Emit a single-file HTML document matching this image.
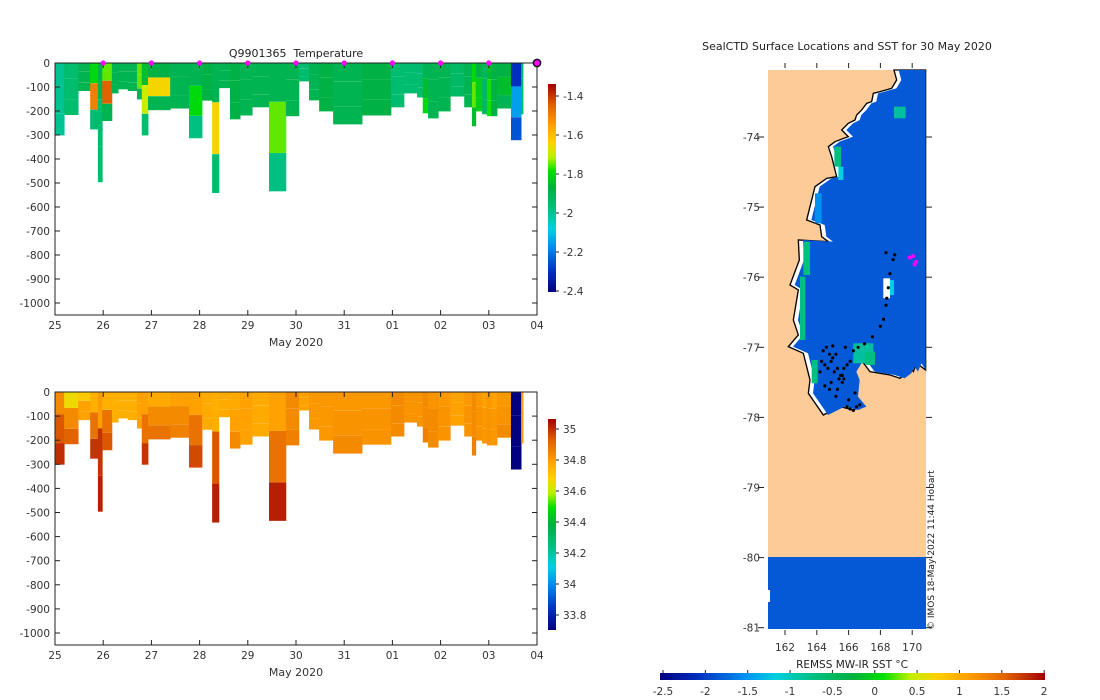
<!DOCTYPE html>
<html><head><meta charset="utf-8">
<style>
html,body{margin:0;padding:0;background:#fff;}
svg{display:block;font-family:"DejaVu Sans","Liberation Sans",sans-serif;}
</style></head>
<body>
<svg id="fig" width="1100" height="700" viewBox="0 0 1100 700" xmlns="http://www.w3.org/2000/svg">
<defs>
<linearGradient id="cbv" x1="0" y1="1" x2="0" y2="0">
<stop offset="0" stop-color="#000080"/><stop offset="0.1" stop-color="#0030c0"/><stop offset="0.22" stop-color="#0090f0"/><stop offset="0.3" stop-color="#00d0e0"/><stop offset="0.4" stop-color="#00c080"/><stop offset="0.5" stop-color="#00b040"/><stop offset="0.58" stop-color="#00e000"/><stop offset="0.65" stop-color="#c0f000"/><stop offset="0.72" stop-color="#ffd000"/><stop offset="0.8" stop-color="#ffa000"/><stop offset="0.9" stop-color="#e06000"/><stop offset="1" stop-color="#a00000"/>
</linearGradient>
<linearGradient id="cbh" x1="0" y1="0" x2="1" y2="0">
<stop offset="0" stop-color="#000080"/><stop offset="0.1" stop-color="#0030c0"/><stop offset="0.22" stop-color="#0090f0"/><stop offset="0.3" stop-color="#00d0e0"/><stop offset="0.4" stop-color="#00c080"/><stop offset="0.5" stop-color="#00b040"/><stop offset="0.58" stop-color="#00e000"/><stop offset="0.65" stop-color="#c0f000"/><stop offset="0.72" stop-color="#ffd000"/><stop offset="0.8" stop-color="#ffa000"/><stop offset="0.9" stop-color="#e06000"/><stop offset="1" stop-color="#a00000"/>
</linearGradient>
</defs>
<g id="top"></g>
<g id="bot"></g>
<g id="map"></g>
</svg>
<script>
// ---- section data ----
const castStart = [0,0.19,0.48,0.73,0.89,0.98,1.18,1.31,1.51,1.70,1.80,1.93,2.39,2.78,3.05,3.26,3.40,3.63,3.84,4.09,4.44,4.79,5.06,5.27,5.48,5.77,6.37,6.97,7.24,7.51,7.63,7.74,7.95,8.20,8.49,8.65,8.73,8.86,8.96,9.05,9.17,9.46,9.67];
const castEndLast = 9.71;
const castDepth = [300,215,115,275,495,240,125,108,115,150,300,195,188,312,155,540,103,233,217,183,533,220,75,154,200,254,217,183,125,142,208,229,200,138,183,262,200,212,220,220,188,320,212];
const tempTop = [-2.0,-1.95,-1.9,-1.8,-1.9,-1.75,-1.9,-1.9,-1.9,-1.75,-1.85,-1.88,-1.9,-1.9,-1.88,-1.9,-1.9,-1.88,-1.9,-1.9,-1.9,-1.9,-1.95,-1.9,-1.88,-1.9,-1.88,-1.95,-1.95,-1.95,-1.9,-1.9,-1.9,-1.93,-1.9,-1.8,-1.88,-1.92,-1.85,-1.88,-1.88,-2.3,-1.95];
const tempMid = [-2.0,-1.95,-1.9,-1.5,-1.95,-1.45,-1.9,-1.9,-1.9,-1.75,-1.7,-1.65,-1.9,-1.8,-1.88,-1.65,-1.9,-1.88,-1.9,-1.9,-1.75,-1.9,-1.95,-1.9,-1.88,-1.9,-1.88,-1.95,-1.95,-1.95,-1.85,-1.9,-1.9,-1.93,-1.9,-1.75,-1.82,-1.92,-1.78,-1.88,-1.85,-2.15,-1.95];
const tempDeep = [-2.0,-1.95,-1.9,-1.95,-1.95,-1.9,-1.9,-1.9,-1.9,-1.9,-1.95,-1.9,-1.9,-1.98,-1.88,-1.95,-1.9,-1.88,-1.9,-1.9,-1.98,-1.9,-1.95,-1.9,-1.88,-1.9,-1.88,-1.95,-1.95,-1.95,-1.8,-1.9,-1.9,-1.93,-1.9,-1.85,-1.82,-1.92,-1.78,-1.88,-1.9,-2.25,-1.95];
const salTop = [34.84,34.66,34.7,34.76,34.8,34.76,34.76,34.76,34.76,34.79,34.79,34.77,34.79,34.79,34.77,34.76,34.77,34.77,34.79,34.77,34.79,34.84,34.79,34.81,34.81,34.81,34.81,34.84,34.82,34.82,34.84,34.82,34.81,34.79,34.81,34.84,34.81,34.79,34.81,34.79,34.81,33.7,34.79];
const salMid = [34.94,34.84,34.79,34.89,34.99,34.89,34.76,34.76,34.76,34.79,34.89,34.84,34.84,34.89,34.77,34.94,34.77,34.79,34.79,34.77,34.89,34.84,34.79,34.81,34.81,34.82,34.82,34.84,34.82,34.82,34.84,34.84,34.82,34.79,34.82,34.84,34.82,34.81,34.82,34.81,34.82,33.7,34.79];
const salDeep = [35.0,34.92,34.79,34.99,35.02,34.94,34.76,34.76,34.76,34.79,34.99,34.89,34.86,34.96,34.77,35.02,34.77,34.84,34.79,34.77,35.02,34.86,34.79,34.81,34.81,34.84,34.82,34.84,34.82,34.82,34.86,34.84,34.82,34.79,34.82,34.86,34.82,34.81,34.82,34.81,34.84,33.7,34.79];
const xTickLabels = ["25","26","27","28","29","30","31","01","02","03","04"];
const depthTicks = [0,-100,-200,-300,-400,-500,-600,-700,-800,-900,-1000];
const surfMarkDays = [1,2,3,4,5,6,7,8,9];
const tempCbTicks = [-1.4,-1.6,-1.8,-2,-2.2,-2.4];
const salCbTicks = [35,34.8,34.6,34.4,34.2,34,33.8];
// ---- map data ----
const lonTicks = [162,164,166,168,170];
const latTicks = [-74,-75,-76,-77,-78,-79,-80,-81];
const sstTicks = [-2.5,-2,-1.5,-1,-0.5,0,0.5,1,1.5,2];
const dotLon = [164.3,164.5,164.7,164.9,165.1,165.3,165.5,165.7,165.9,164.4,164.6,164.8,165.0,165.2,165.4,165.6,164.5,164.9,165.3,165.7,166.1,164.2,165.0,165.8,166.3,166.6,165.9,166.1,166.3,166.5,166.7,166.0,166.4,167.0,167.5,168.0,168.2,168.35,168.4,168.5,168.6,168.8,168.35,168.9,164.8,165.2,165.6];
const dotLat = [-77.2,-77.25,-77.3,-77.2,-77.35,-77.3,-77.4,-77.3,-77.25,-77.05,-77.0,-77.1,-77.15,-77.1,-77.45,-77.5,-77.55,-77.5,-77.6,-77.45,-77.2,-77.35,-76.98,-77.0,-77.05,-77.0,-77.85,-77.88,-77.9,-77.85,-77.82,-77.75,-77.65,-76.95,-76.85,-76.7,-76.6,-76.4,-76.3,-76.15,-75.95,-75.75,-75.65,-75.68,-77.6,-77.7,-77.4];
const magLon = [169.85,170.05,170.25,170.15];
const magLat = [-75.72,-75.7,-75.78,-75.82];
const coastZoom = [[462,30],[470,60],[455,85],[420,95],[400,100],[395,125],[380,130],[365,150],[350,165],[345,180],[325,190],[305,210],[325,230],[285,245],[265,260],[275,290],[290,350],[260,355],[225,380],[210,440],[200,480],[240,495],[245,530],[265,545],[175,540],[178,600],[150,675],[175,690],[160,780],[175,825],[145,860],[190,880],[210,960],[205,1000],[250,1065],[300,1040],[340,1050],[365,1040],[340,1010],[345,960],[335,935],[360,895],[390,935],[450,945],[480,955],[500,940],[510,920],[520,935],[530,910],[557,930],[557,30]];

const NS="http://www.w3.org/2000/svg";
function mk(parent,tag,attrs,text){const e=document.createElementNS(NS,tag);for(const k in attrs)e.setAttribute(k,attrs[k]);if(text!==undefined)e.textContent=text;parent.appendChild(e);return e;}
const stops=[[0,[0,0,128]],[0.1,[0,48,192]],[0.22,[0,144,240]],[0.3,[0,208,224]],[0.4,[0,192,128]],[0.5,[0,176,64]],[0.58,[0,224,0]],[0.65,[192,240,0]],[0.72,[255,208,0]],[0.8,[255,160,0]],[0.9,[224,96,0]],[1,[160,0,0]]];
function cmap(t){t=Math.max(0,Math.min(1,t));for(let i=1;i<stops.length;i++){if(t<=stops[i][0]){const a=stops[i-1],b=stops[i];const f=(t-a[0])/(b[0]-a[0]);const c=a[1].map((v,j)=>Math.round(v+(b[1][j]-v)*f));return `rgb(${c[0]},${c[1]},${c[2]})`;}}return "rgb(160,0,0)";}

function panel(g,y0,pxPer100,vals,vmin,vmax,cbTop,cbBot,cbTicks,cbTickY,title,marks){
  const xL=55,xR=537,yb=y0+10*pxPer100+12;
  const xs=d=>xL+d*48.2, ys=dep=>y0+dep/100*pxPer100;
  if(title){const t=mk(g,'text',{x:296,y:57,'text-anchor':'middle','font-size':11,fill:'#222'},title);t.setAttribute('xml:space','preserve');t.style.whiteSpace='pre';}
  const casts=mk(g,'g',{});
  
  for(let i=0;i<castStart.length;i++){
    const x0=xs(castStart[i]),x1=xs(i+1<castStart.length?castStart[i+1]:castEndLast);
    const D=castDepth[i];
    const layers=[[0,0.3,vals[0][i]],[0.3,0.7,vals[1][i]],[0.7,1,vals[2][i]]];
    for(const L of layers){
      const r=mk(casts,'rect',{x:x0,y:ys(D*L[0]+2),width:x1-x0+0.4,height:ys(D*L[1])-ys(D*L[0]+2)+0.4,fill:cmap((L[2]-vmin)/(vmax-vmin))});
      
    }
  }
  mk(g,'rect',{x:xL,y:y0,width:xR-xL,height:yb-y0,fill:'none',stroke:'#222','stroke-width':1});
  depthTicks.forEach(v=>{const y=ys(-v);
    mk(g,'line',{x1:xL,x2:xL+5,y1:y,y2:y,stroke:'#222'});mk(g,'line',{x1:xR-5,x2:xR,y1:y,y2:y,stroke:'#222'});
    const t=mk(g,'text',{x:xL-5,y:y+4,'text-anchor':'end','font-size':10.5,fill:'#333'},String(v));});
  xTickLabels.forEach((s,i)=>{const x=xs(i);
    mk(g,'line',{x1:x,x2:x,y1:yb,y2:yb-5,stroke:'#222'});mk(g,'line',{x1:x,x2:x,y1:y0,y2:y0+5,stroke:'#222'});
    const t=mk(g,'text',{x:x,y:yb+14,'text-anchor':'middle','font-size':10.5,fill:'#333'},s);});
  const xl=mk(g,'text',{x:296,y:yb+31,'text-anchor':'middle','font-size':11,fill:'#333'},'May 2020');
  if(marks){surfMarkDays.forEach(d=>{const c=mk(g,'circle',{cx:xs(d),cy:y0,r:2.6,fill:'#ff00ff'});});
    const c=mk(g,'circle',{cx:xR,cy:y0,r:3.6,fill:'#ff00ff',stroke:'#111','stroke-width':1.5});}
  const cb=mk(g,'rect',{x:548,y:cbTop,width:8,height:cbBot-cbTop,fill:'url(#cbv)'});
  
  cbTicks.forEach(v=>{const y=cbTickY(v);mk(g,'line',{x1:556,x2:559,y1:y,y2:y,stroke:'#222'});
    const t=mk(g,'text',{x:563,y:y+4,'font-size':10.5,fill:'#333'},String(v));});
}
panel(document.getElementById('top'),63,24,[tempTop,tempMid,tempDeep],-2.405,-1.34,84,292,tempCbTicks,v=>96+(-1.4-v)*195,'Q9901365  Temperature',true);
panel(document.getElementById('bot'),392,24.1,[salTop,salMid,salDeep],33.705,35.065,419,630,salCbTicks,v=>429+(35-v)*155,null,false);

// ---- map ----
const M=document.getElementById('map');
const lx=lon=>785+(lon-162)*15.9, ly=lat=>137+(-lat-74)*70.1;
const tt=mk(M,'text',{x:847,y:50,'text-anchor':'middle','font-size':11,fill:'#222'},'SealCTD Surface Locations and SST for 30 May 2020');

const land=mk(M,'rect',{x:768,y:70,width:158,height:559,fill:'#fdcb98'});
const sea=mk(M,'rect',{x:768,y:557,width:158,height:72,fill:'#0559d6'});
mk(M,'rect',{x:768,y:590,width:2,height:12,fill:'#fff'});
const cg=mk(M,'g',{transform:'translate(740,60) scale(0.3333)'});
const pts=coastZoom.map(p=>p.join(',')).join(' ');
const cp=mk(cg,'polygon',{points:pts,fill:'#fff',stroke:'#000','stroke-width':4});
const innerPts=coastZoom.map(p=>[p[0]<557?p[0]+14:p[0],p[1]]).map(p=>p.join(',')).join(' ');
const op=mk(cg,'polygon',{points:innerPts,fill:'#0559d6'});
[[190,545,20,100,'#00c080'],[180,650,16,190,'#00c080'],[215,900,18,70,'#00c080'],[283,260,20,60,'#00c080'],[295,320,15,40,'#00d0e0'],[340,850,60,60,'#00c0a0'],[375,875,30,40,'#00c080'],[430,655,20,60,'#fff'],[450,660,12,45,'#00d0e0'],[462,140,35,35,'#00c0a0'],[225,400,20,90,'#0090f0']].forEach(r=>{const e=mk(cg,'rect',{x:r[0],y:r[1],width:r[2],height:r[3],fill:r[4]});});
for(let i=0;i<dotLon.length;i++){const c=mk(M,'circle',{cx:lx(dotLon[i]),cy:ly(dotLat[i]),r:1.6,fill:'#000'});}
for(let i=0;i<magLon.length;i++){const c=mk(M,'circle',{cx:lx(magLon[i]),cy:ly(magLat[i]),r:2,fill:'#ff00ff'});}
latTicks.forEach(v=>{const y=ly(v);mk(M,'line',{x1:758,x2:764,y1:y,y2:y,stroke:'#222'});mk(M,'line',{x1:926,x2:932,y1:y,y2:y,stroke:'#222'});
  const t=mk(M,'text',{x:760,y:y+4,'text-anchor':'end','font-size':10.5,fill:'#333'},String(v));});
lonTicks.forEach(v=>{const x=lx(v);mk(M,'line',{x1:x,x2:x,y1:63,y2:68,stroke:'#222'});mk(M,'line',{x1:x,x2:x,y1:630,y2:635,stroke:'#222'});
  const t=mk(M,'text',{x:x,y:651,'text-anchor':'middle','font-size':10.5,fill:'#333'},String(v));});
const cr=mk(M,'text',{transform:'translate(934,630) rotate(-90)','font-size':9,fill:'#222'},'© IMOS 18-May-2022 11:44 Hobart');

const sl=mk(M,'text',{x:852,y:668,'text-anchor':'middle','font-size':10.5,fill:'#222'},'REMSS MW-IR SST °C');

const hb=mk(M,'rect',{x:660,y:673,width:385,height:7,fill:'url(#cbh)'});

sstTicks.forEach(v=>{const x=663+(v+2.5)*84.7;mk(M,'line',{x1:x,x2:x,y1:670,y2:673,stroke:'#222'});
  const t=mk(M,'text',{x:x,y:695,'text-anchor':'middle','font-size':10.5,fill:'#333'},String(v));});
</script>
</body></html>
